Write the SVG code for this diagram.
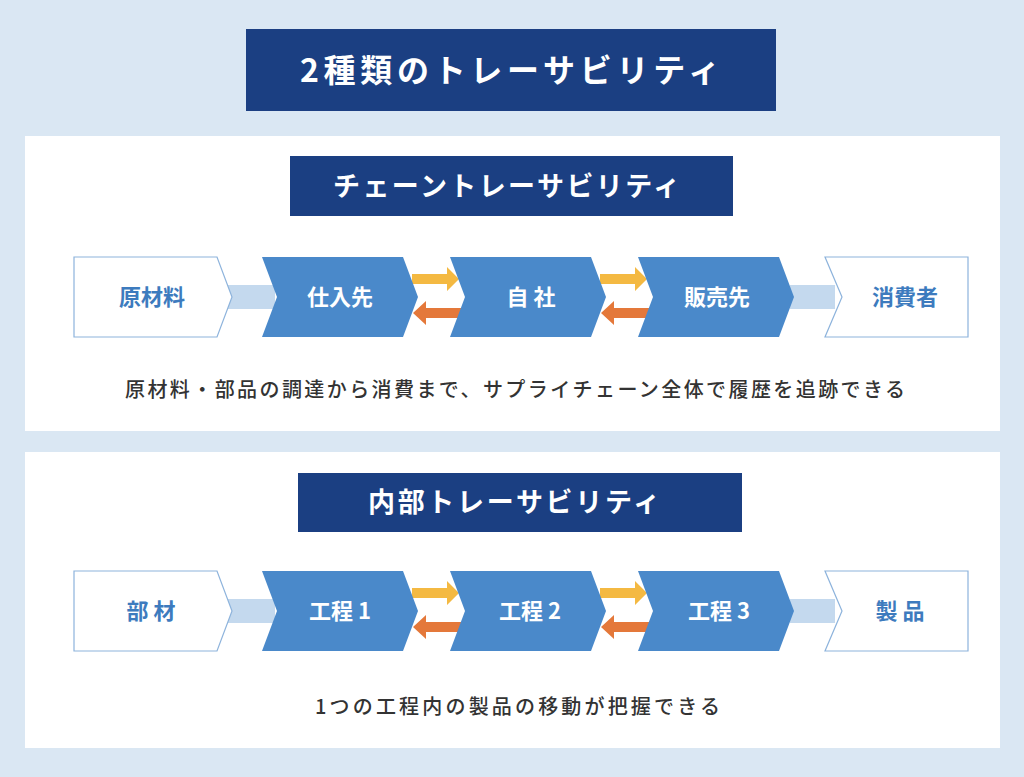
<svg xmlns="http://www.w3.org/2000/svg" width="1024" height="777" viewBox="0 0 1024 777">
<style>
.jp{font-family:"Noto Sans CJK JP","Noto Sans",sans-serif}
.ttl{fill:#fff;font-weight:700}
.navy{fill:#1B3F82}
.panel{fill:#fff}
.wbox{fill:#fff;stroke:#8DB3DC;stroke-width:1.2}
.bbox{fill:#4A89CA}
.bar{fill:#C4D9EE}
.yel{fill:#F4B942}
.ora{fill:#E4783A}
.wl{fill:#3D7BBE;font-weight:700;font-size:22px}
.bl{fill:#fff;font-weight:700;font-size:22px}
.note{fill:#333;font-weight:500;font-size:20px}
</style>
<defs>
<path id="chev" d="M0,0 H141 L156,40 L141,80 H0 L15,40 Z"/>
<g id="pair">
<path class="yel" d="M0,-23 H35 V-30 L47,-18 L35,-6 V-13 H0 Z"/>
<path class="ora" d="M50,11 H14 V4 L1,16 L14,28 V21 H50 Z"/>
</g>
</defs>
<rect width="1024" height="777" fill="#DAE7F3"/>
<g id="title">
<rect class="navy" x="246" y="29" width="530" height="82"/>
<text class="jp ttl" x="300" y="82" font-size="32" textLength="420" lengthAdjust="spacing">2種類のトレーサビリティ</text>
</g>
<g id="panel-chain">
<rect class="panel" x="25" y="136" width="975" height="295"/>
<rect class="navy" x="290" y="156" width="443" height="60"/>
<text class="jp ttl" x="333" y="196" font-size="27" textLength="347" lengthAdjust="spacing">チェーントレーサビリティ</text>
<text class="jp note" x="125" y="397" textLength="780" lengthAdjust="spacing">原材料・部品の調達から消費まで、サプライチェーン全体で履歴を追跡できる</text>
</g>
<g id="panel-internal">
<rect class="panel" x="25" y="452" width="975" height="296"/>
<rect class="navy" x="298" y="473" width="444" height="59"/>
<text class="jp ttl" x="368" y="512" font-size="27" textLength="292" lengthAdjust="spacing">内部トレーサビリティ</text>
<text class="jp note" x="315" y="714" textLength="405" lengthAdjust="spacing">1つの工程内の製品の移動が把握できる</text>
</g>
<g id="connectors">
<rect class="bar" x="225" y="285" width="50" height="24"/>
<rect class="bar" x="790" y="285" width="45" height="24"/>
<use href="#pair" x="412" y="297"/>
<use href="#pair" x="600" y="297"/>
<rect class="bar" x="225" y="599" width="50" height="24"/>
<rect class="bar" x="790" y="599" width="45" height="24"/>
<use href="#pair" x="412" y="611"/>
<use href="#pair" x="600" y="611"/>
</g>
<g id="node-genzairyo">
<path class="wbox" d="M74,257 H217 L232,297 L217,337 H74 Z"/>
<text class="jp wl" x="152" y="305" text-anchor="middle">原材料</text>
</g>
<g id="node-shiiresaki">
<use href="#chev" class="bbox" x="262" y="257"/>
<text class="jp bl" x="340" y="305" text-anchor="middle">仕入先</text>
</g>
<g id="node-jisha">
<use href="#chev" class="bbox" x="450" y="257"/>
<text class="jp bl" x="531" y="305" text-anchor="middle">自 社</text>
</g>
<g id="node-hanbaisaki">
<use href="#chev" class="bbox" x="638" y="257"/>
<text class="jp bl" x="717" y="305" text-anchor="middle">販売先</text>
</g>
<g id="node-shohisha">
<path class="wbox" d="M825,257 H968 V337 H825 L842,297 Z"/>
<text class="jp wl" x="905" y="305" text-anchor="middle">消費者</text>
</g>
<g id="node-buzai">
<path class="wbox" d="M74,571 H217 L232,611 L217,651 H74 Z"/>
<text class="jp wl" x="151" y="619" text-anchor="middle">部 材</text>
</g>
<g id="node-koutei1">
<use href="#chev" class="bbox" x="262" y="571"/>
<text class="jp bl" x="340" y="619" text-anchor="middle">工程 1</text>
</g>
<g id="node-koutei2">
<use href="#chev" class="bbox" x="450" y="571"/>
<text class="jp bl" x="530" y="619" text-anchor="middle">工程 2</text>
</g>
<g id="node-koutei3">
<use href="#chev" class="bbox" x="638" y="571"/>
<text class="jp bl" x="719" y="619" text-anchor="middle">工程 3</text>
</g>
<g id="node-seihin">
<path class="wbox" d="M825,571 H968 V651 H825 L842,611 Z"/>
<text class="jp wl" x="900" y="619" text-anchor="middle">製 品</text>
</g>
</svg>
